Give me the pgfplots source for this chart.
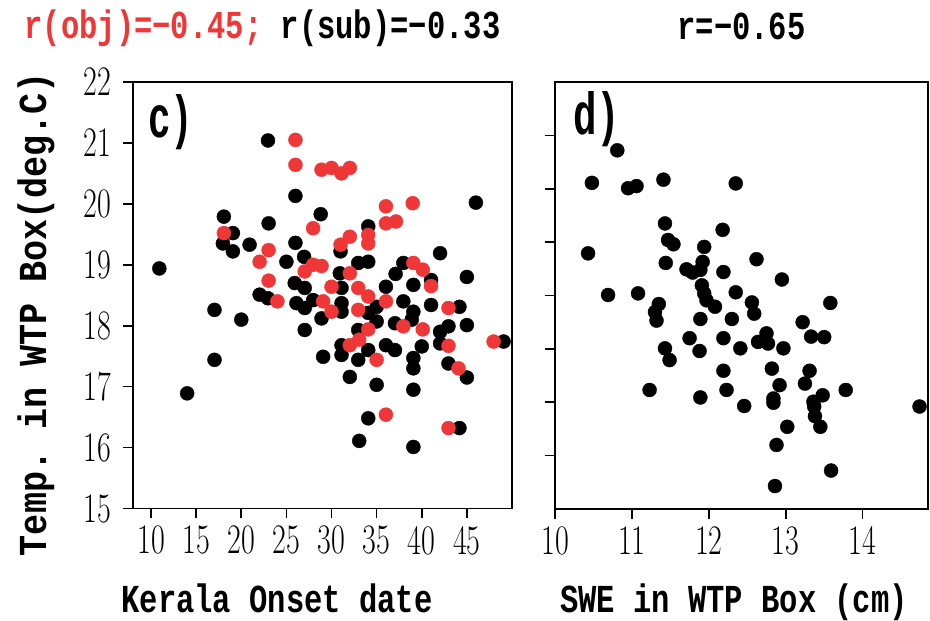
\documentclass[border=0pt]{standalone}
\usepackage{pgfplots}
\pgfplotsset{compat=1.18}
\usepackage{pgfplotstable}
\usepackage{fontspec}
\usepackage{graphicx}
\setmonofont{Liberation Mono}
\definecolor{objred}{RGB}{240,55,55}

\pgfplotstableread{
x y
22.96 21.04
26.0 20.13
18.07 19.79
23.03 19.68
19.07 19.52
17.96 19.35
20.92 19.33
19.07 19.22
26.0 19.36
25.0 19.05
26.96 19.13
10.92 18.94
28.8 19.83
34.07 19.63
31.0 19.22
32.96 19.03
34.07 19.05
42.03 19.19
46.0 20.02
45.0 18.80
37.1 18.85
30.92 18.86
37.96 19.03
27.03 18.62
27.03 18.29
27.03 17.93
29.07 17.49
31.11 18.62
31.11 18.37
31.11 18.23
28.89 18.12
34.07 18.21
35.0 18.31
35.0 18.07
32.96 17.93
31.11 17.68
31.11 17.52
32.96 17.44
34.07 17.60
32.03 17.16
35.0 17.03
36.03 18.64
37.03 18.04
36.03 17.68
37.03 17.60
37.96 18.40
39.07 18.67
39.07 18.23
38.89 18.10
40.0 17.66
39.07 17.47
39.07 17.30
39.07 16.95
41.03 18.34
42.03 17.90
42.03 17.71
42.96 17.99
44.18 18.31
45.0 18.01
42.96 17.38
45.0 17.15
49.07 17.74
34.07 16.48
33.07 16.11
39.07 16.01
44.18 16.32
41.03 18.75
17.03 18.26
20.0 18.10
17.03 17.44
14.0 16.89
25.92 18.70
22.03 18.51
22.96 18.45
26.11 18.37
27.96 18.42
}\subdata

\pgfplotstableread{
x y
26.0 21.05
26.0 20.64
28.89 20.56
30.0 20.59
31.11 20.50
32.03 20.59
18.07 19.52
27.96 19.60
23.03 19.24
22.03 19.05
23.03 18.74
24.0 18.40
27.03 18.89
27.96 19.0
28.9 18.98
36.03 19.96
39.0 20.01
36.03 19.68
37.14 19.71
32.03 19.46
31.0 19.33
34.07 19.49
34.07 19.35
32.03 18.86
39.07 19.03
40.11 18.92
30.0 18.64
32.96 18.62
34.07 18.48
29.07 18.40
30.0 18.23
32.96 18.26
36.03 18.40
41.03 18.65
42.96 18.29
37.96 17.99
40.11 17.94
34.07 17.94
33.07 17.77
32.03 17.68
35.0 17.44
42.96 17.67
44.07 17.30
47.96 17.74
36.03 16.54
42.96 16.32
}\objdata

\pgfplotstableread{
x y
10.81 6.72
10.48 6.11
10.95 6.01
11.06 6.05
11.41 6.17
12.35 6.10
10.43 4.79
11.43 5.35
11.47 5.04
11.54 4.96
11.94 4.91
12.18 5.23
11.44 4.61
11.92 4.63
11.71 4.49
11.79 4.43
11.89 4.48
12.19 4.44
10.69 4.01
11.08 4.04
11.35 3.84
11.30 3.69
11.32 3.53
11.91 4.19
11.94 4.04
11.97 3.91
12.08 3.79
12.35 4.06
11.89 3.56
12.30 3.56
12.62 4.68
12.95 4.30
12.56 3.87
12.59 3.66
13.58 3.86
13.22 3.50
11.75 3.20
11.88 2.96
12.19 3.20
12.41 3.01
11.43 3.01
11.49 2.79
12.75 3.29
12.64 3.13
12.77 3.10
12.97 3.01
13.33 3.23
13.50 3.22
12.19 2.59
12.23 2.23
12.82 2.63
12.92 2.32
13.31 2.59
13.25 2.35
13.48 2.13
13.78 2.23
11.23 2.23
11.89 2.09
12.46 1.93
12.84 2.07
12.84 1.99
13.36 2.01
13.37 1.92
13.38 1.74
13.45 1.54
13.02 1.54
12.88 1.20
13.59 0.72
12.86 0.43
14.74 1.92
}\swedata

\newcommand\lab[1]{\scalebox{1}[1.3]{\ttfamily\bfseries\fontsize{30.5}{32}\selectfont #1}}
\newcommand\ylab[1]{\scalebox{1.15}[1.3]{\ttfamily\bfseries\fontsize{30.5}{32}\selectfont #1}}

\pgfplotsset{
  panel/.style={
    scale only axis,
    anchor=south west,
    tick align=outside,
    major tick length=10pt,
    xtick pos=left, ytick pos=left,
    axis line style={line width=1.6pt},
    every tick/.style={line width=1.6pt, black},
    /pgf/number format/assume math mode=true,
    tick label style={font=\fontsize{30}{32}\selectfont},
    xticklabel shift=4pt,
    yticklabel shift=8pt,
    xticklabel={\scalebox{1}[1.4]{\pgfmathprintnumber{\tick}}},
    yticklabel={\scalebox{1}[1.4]{\pgfmathprintnumber{\tick}}},
    clip=false,
  },
  dots/.style={only marks, mark=*, mark size=7pt, mark options={line width=0pt}},
}

\begin{document}
\begin{tikzpicture}
\path[use as bounding box] (0pt,0pt) rectangle (930pt,621pt);
\begin{axis}[panel,
  at={(133pt,112.5pt)}, width=379pt, height=426.5pt,
  xmin=8, xmax=50, ymin=15, ymax=22,
  xtick={10,15,...,45}, ytick={15,16,...,22},
  xlabel={\lab{Kerala Onset date}},
  xlabel style={at={(axis description cs:0.38,0)}, anchor=base, yshift=-104pt},
  ylabel={\ylab{Temp. in WTP Box(deg.C)}},
  ylabel style={at={(axis description cs:-0.256,0.456)}, anchor=center},
  title={\lab{\textcolor{objred}{r(obj)=−0.45;} r(sub)=−0.33}},
  title style={at={(axis description cs:0.5,1)}, anchor=base, xshift=-60pt, yshift=37pt},
]
\addplot[dots, black, mark options={fill=black}] table {\subdata};
\addplot[dots, objred, mark options={fill=objred}] table {\objdata};
\node[anchor=base west, inner sep=0pt] at (axis description cs:0.04,0.871)
  {\resizebox{45pt}{43pt}{\ttfamily\bfseries c)}};
\end{axis}
\begin{axis}[panel,
  at={(555pt,112pt)}, width=373pt, height=427pt,
  xmin=10, xmax=14.85, ymin=0, ymax=8,
  xtick={10,...,14}, ytick={1,...,7}, yticklabels={},
  xlabel={\lab{SWE in WTP Box (cm)}},
  xlabel style={at={(axis description cs:0.48,0)}, anchor=base, yshift=-104pt},
  title={\lab{r=−0.65}},
  title style={at={(axis description cs:0.5,1)}, anchor=base, yshift=37pt},
]
\addplot[dots, black, mark options={fill=black}] table {\swedata};
\node[anchor=base west, inner sep=0pt] at (axis description cs:0.048,0.876)
  {\resizebox{47pt}{43pt}{\ttfamily\bfseries d)}};
\end{axis}
\end{tikzpicture}
\end{document}
